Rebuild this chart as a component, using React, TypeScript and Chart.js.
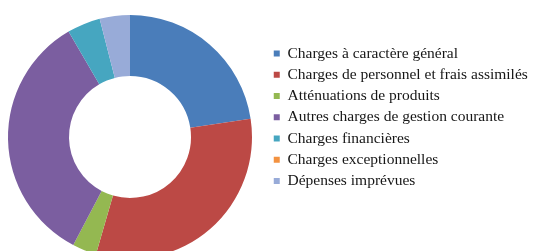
import React, { useEffect, useRef } from "react";
import { Chart, registerables } from "chart.js";

Chart.register(...registerables);

const categories = [
  "Charges à caractère général",
  "Charges de personnel et frais assimilés",
  "Atténuations de produits",
  "Autres charges de gestion courante",
  "Charges financières",
  "Charges exceptionnelles",
  "Dépenses imprévues",
];

const values = [22.6, 31.9, 3.2, 33.9, 4.4, 0, 4.0];

const colors = [
  "#4A7DBA",
  "#BC4945",
  "#94B851",
  "#7B5EA0",
  "#46A6C0",
  "#F39240",
  "#98ABD8",
];

export default function App() {
  const ref = useRef<HTMLCanvasElement | null>(null);

  useEffect(() => {
    if (!ref.current) return;
    const chart = new Chart(ref.current, {
      type: "doughnut",
      data: {
        labels: categories,
        datasets: [
          {
            data: values,
            backgroundColor: colors,
            borderWidth: 0,
          },
        ],
      },
      options: {
        responsive: false,
        animation: false,
        devicePixelRatio: 1,
        cutout: "50%",
        layout: {
          padding: { top: 15, bottom: 0, left: 0, right: 6 },
        },
        plugins: {
          tooltip: { enabled: false },
          legend: {
            position: "right",
            align: "start",
            maxWidth: 260,
            title: {
              display: true,
              text: " ",
              font: { size: 12, family: "Liberation Serif" },
              padding: { top: 0, bottom: 10.6 },
            },
            labels: {
              boxWidth: 6,
              boxHeight: 6,
              padding: 5.75,
              color: "#161616",
              font: { size: 15.5, family: "Liberation Serif" },
            },
          },
        },
      },
    });
    return () => chart.destroy();
  }, []);

  return (
    <div
      style={{
        position: "fixed",
        left: 0,
        top: 0,
        width: 534,
        height: 251,
        overflow: "hidden",
        background: "#fff",
      }}
    >
      <canvas
        ref={ref}
        width={542}
        height={259}
        style={{
          position: "absolute",
          left: -8,
          top: 0,
          display: "block",
          width: 542,
          height: 259,
        }}
      />
    </div>
  );
}
